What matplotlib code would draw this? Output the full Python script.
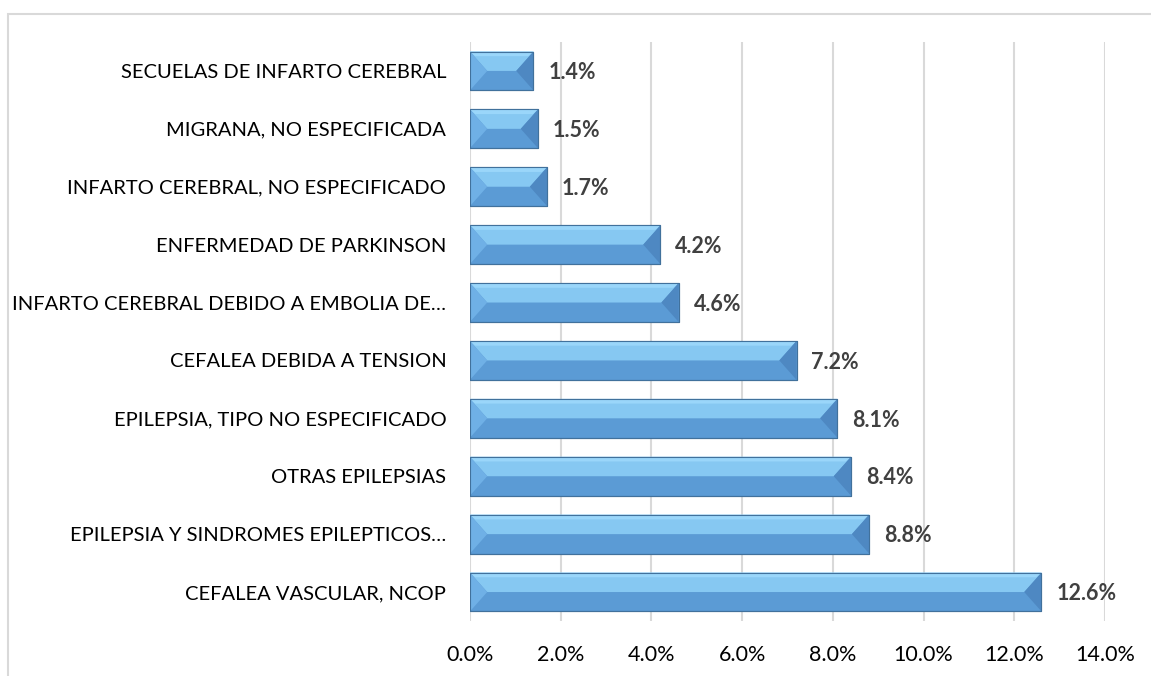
import numpy as np
import matplotlib.pyplot as plt
from matplotlib.patches import Polygon, Rectangle
from matplotlib.ticker import FuncFormatter

# data, listed bottom -> top
categories = [
    "CEFALEA VASCULAR, NCOP",
    "EPILEPSIA Y SINDROMES EPILEPTICOS…",
    "OTRAS EPILEPSIAS",
    "EPILEPSIA, TIPO NO ESPECIFICADO",
    "CEFALEA DEBIDA A TENSION",
    "INFARTO CEREBRAL DEBIDO A EMBOLIA DE…",
    "ENFERMEDAD DE PARKINSON",
    "INFARTO CEREBRAL, NO ESPECIFICADO",
    "MIGRANA, NO ESPECIFICADA",
    "SECUELAS DE INFARTO CEREBRAL",
]
values = [12.6, 8.8, 8.4, 8.1, 7.2, 4.6, 4.2, 1.7, 1.5, 1.4]
xticks = [0, 2, 4, 6, 8, 10, 12, 14]

plt.rcParams['font.family'] = ['Lato', 'DejaVu Sans']

fig = plt.figure(figsize=(11.51, 6.76), dpi=100)
ax = fig.add_axes([0.4083, 0.0814, 0.5517, 0.8565])

# outer chart border (cropped on right/bottom like the source)
fig.patches.append(Rectangle((8 / 1151, -0.05), 1.2, 1 - 14 / 676 + 0.05,
                             transform=fig.transFigure, fill=False,
                             edgecolor='#d9d9d9', linewidth=1.5))

y = np.arange(len(values))
h = 0.67
ax.barh(y, values, height=h, color='#5b9bd5', edgecolor='#41719c',
        linewidth=0.8, zorder=2)

# bevel faces
bev = 0.38  # horizontal depth of the bevel, in data units
for yi, v in zip(y, values):
    y0, y1, ym = yi - h / 2, yi + h / 2, yi
    top = Polygon([(0, y1), (v, y1), (v - bev, ym), (bev, ym)],
                  closed=True, facecolor='#86c8f2', edgecolor='none', zorder=3)
    strip = Polygon([(0, y1), (v, y1), (v - bev * 0.3, y1 - h * 0.12),
                     (bev * 0.3, y1 - h * 0.12)],
                    closed=True, facecolor='#9ad6fa', edgecolor='none', zorder=3)
    left = Polygon([(0, y0), (0, y1), (bev, ym)],
                   closed=True, facecolor='#6fb0e6', edgecolor='none', zorder=3)
    right = Polygon([(v, y0), (v, y1), (v - bev, ym)],
                    closed=True, facecolor='#4e88c2', edgecolor='none', zorder=3)
    for p in (top, strip, left, right):
        ax.add_patch(p)
    ax.add_patch(Rectangle((0, y0), v, h, fill=False, edgecolor='#41719c',
                           linewidth=0.8, zorder=4))
    ax.text(v + 0.33, yi - 0.03, f"{v:.1f}%", va='center', ha='left',
            fontsize=15.5, fontweight='bold', color='#404040')

ax.set_xlim(0, 14)
ax.set_ylim(-0.5, len(values) - 0.5)
ax.set_xticks(xticks)
ax.xaxis.set_major_formatter(FuncFormatter(lambda v, p: f"{v:.1f}%"))
ax.set_yticks(y)
ax.set_yticklabels(categories)
ax.tick_params(axis='both', length=0, colors='black')
ax.tick_params(axis='x', pad=17, labelsize=15.5)
ax.tick_params(axis='y', pad=17, labelsize=14.5)
ax.grid(axis='x', color='#d9d9d9', linewidth=1.5, zorder=0)
ax.set_axisbelow(True)
for s in ax.spines.values():
    s.set_visible(False)

fig.savefig('out.png', dpi=100)
